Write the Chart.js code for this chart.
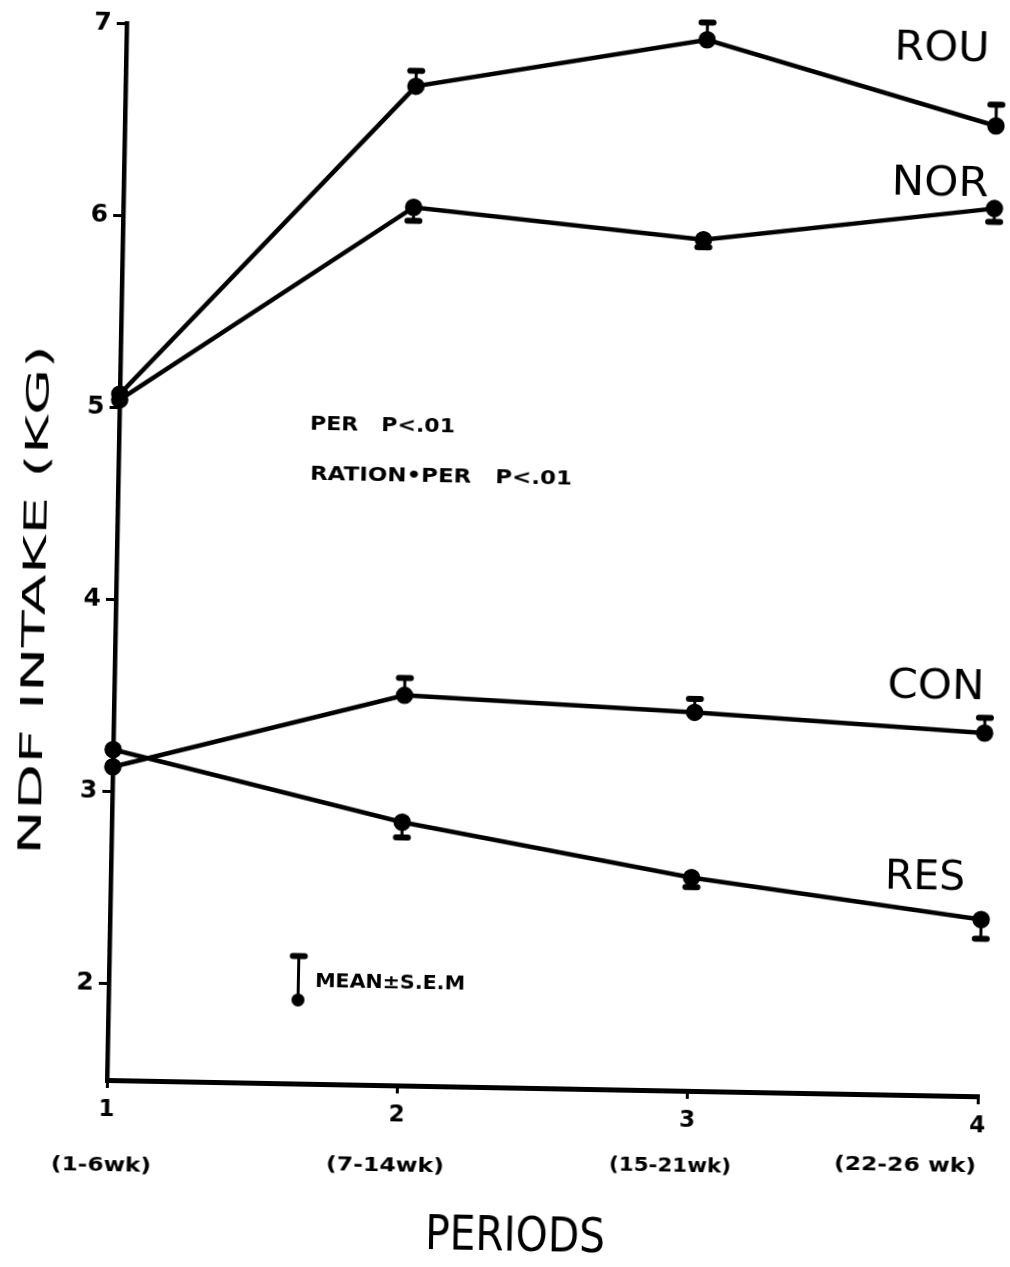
<!DOCTYPE html>
<html>
<head>
<meta charset="utf-8">
<script src="https://cdn.jsdelivr.net/npm/chart.js@4"></script>
<style>
html, body { margin: 0; padding: 0; background: #fff; overflow: hidden; }
/* the scanned figure sits about one degree clockwise */
canvas { display: block; transform: rotate(1.07deg); transform-origin: 107px 1080px; }
</style>
</head>
<body>
<canvas id="ndfChart" width="1010" height="1267"></canvas>
<script>
// periods on the x axis and their week ranges
const periods = ["1", "2", "3", "4"];
const periodNotes = ["(1-6wk)", "(7-14wk)", "(15-21wk)", "(22-26 wk)"];
const yTicks = [2, 3, 4, 5, 6, 7];

// NDF intake (kg) per ration
const rou = [5.07, 6.70, 6.97, 6.55];
const nor = [5.04, 6.07, 5.93, 6.12];
const con = [3.13, 3.53, 3.47, 3.39];
const res = [3.22, 2.87, 2.61, 2.42];

// S.E.M. for each point (bar drawn up or down from the mean)
const rouSem = [0, 0.08, 0.09, 0.11];
const norSem = [0, 0.07, 0.04, 0.07];
const conSem = [0, 0.09, 0.07, 0.08];
const resSem = [0, 0.08, 0.05, 0.10];

const FONT = "'DejaVu Sans', sans-serif";
const TILT = 1.07 * Math.PI / 180;

// page position -> position on the (rotated) canvas
function at(x, y) {
	const dx = x - 107, dy = y - 1080;
	return [
		107 + dx * Math.cos(TILT) + dy * Math.sin(TILT),
		1080 - dx * Math.sin(TILT) + dy * Math.cos(TILT),
	];
}

function line(name, data, sem, up) {
	return {
		label: name,
		data: data,
		sem: sem,
		semUp: up,
		borderColor: "#000",
		backgroundColor: "#000",
		borderWidth: 4.5,
		pointRadius: 6.5,
		pointBackgroundColor: "#000",
		pointBorderColor: "#000",
		tension: 0,
		clip: false,
	};
}

// text squeezed or stretched to a given width
function fitText(ctx, text, x, y, font, width, align, rot) {
	const p = at(x, y);
	ctx.save();
	ctx.translate(p[0], p[1]);
	if (rot) ctx.rotate(rot);
	ctx.font = font;
	const w = ctx.measureText(text).width;
	ctx.scale(width / w, 1);
	ctx.textAlign = align || "center";
	ctx.textBaseline = "middle";
	ctx.fillStyle = "#000";
	ctx.fillText(text, 0, 0);
	ctx.restore();
}

function semBar(ctx, x, y0, y1) {
	ctx.save();
	ctx.strokeStyle = "#000";
	ctx.lineWidth = 3;
	ctx.beginPath();
	ctx.moveTo(x, y0);
	ctx.lineTo(x, y1);
	ctx.stroke();
	ctx.lineWidth = 6;
	ctx.lineCap = "round";
	ctx.beginPath();
	ctx.moveTo(x - 6, y1);
	ctx.lineTo(x + 6, y1);
	ctx.stroke();
	ctx.restore();
}

const errorBars = {
	id: "errorBars",
	afterDatasetsDraw(chart) {
		const ctx = chart.ctx;
		const yScale = chart.scales.y;
		chart.data.datasets.forEach((ds, i) => {
			const meta = chart.getDatasetMeta(i);
			meta.data.forEach((pt, j) => {
				const e = ds.sem[j];
				if (!e) return;
				const yy = yScale.getPixelForValue(ds.data[j] + (ds.semUp ? e : -e));
				semBar(ctx, pt.x, pt.y, yy);
			});
		});
	},
};

const labels = {
	id: "labels",
	afterDraw(chart) {
		const ctx = chart.ctx;
		// axis titles
		fitText(ctx, "NDF INTAKE (KG)", 37, 600, "32px " + FONT, 510, "center", -Math.PI / 2);
		fitText(ctx, "PERIODS", 515, 1238, "48px " + FONT, 180);
		// week ranges under the period numbers
		const noteX = [101, 385, 670, 905];
		const noteW = [100, 118, 122, 142];
		periodNotes.forEach((t, i) => {
			fitText(ctx, t, noteX[i], 1166, "bold 20px " + FONT, noteW[i]);
		});
		// series names
		fitText(ctx, "ROU", 942, 50, "40px " + FONT, 95);
		fitText(ctx, "NOR", 940, 185, "40px " + FONT, 97);
		fitText(ctx, "CON", 936, 688, "40px " + FONT, 97);
		fitText(ctx, "RES", 925, 879, "40px " + FONT, 80);
		// statistics
		fitText(ctx, "PER   P<.01", 310, 425, "bold 19px " + FONT, 145, "left");
		fitText(ctx, "RATION\u2022PER   P<.01", 310, 475, "bold 19px " + FONT, 262, "left");
		// mean +- sem key
		const a = at(298, 1000);
		const b = at(299, 956);
		semBar(ctx, a[0], a[1], b[1]);
		ctx.save();
		ctx.fillStyle = "#000";
		ctx.beginPath();
		ctx.arc(a[0], a[1], 6.5, 0, Math.PI * 2);
		ctx.fill();
		ctx.restore();
		fitText(ctx, "MEAN\u00B1S.E.M", 315, 982, "bold 19px " + FONT, 150, "left");
	},
};

const ctx = document.getElementById("ndfChart").getContext("2d");
new Chart(ctx, {
	type: "line",
	data: {
		labels: periods,
		datasets: [
			line("ROU", rou, rouSem, true),
			line("NOR", nor, norSem, false),
			line("CON", con, conSem, true),
			line("RES", res, resSem, false),
		],
	},
	options: {
		responsive: false,
		animation: false,
		layout: { padding: { top: 23, right: 32, left: 0, bottom: 0 } },
		plugins: {
			legend: { display: false },
			tooltip: { enabled: false },
		},
		scales: {
			x: {
				type: "category",
				offset: false,
				afterFit: (s) => { s.height = 187; },
				grid: {
					drawOnChartArea: false,
					drawTicks: true,
					tickLength: 8,
					color: "#000",
					lineWidth: 3,
				},
				border: { color: "#000", width: 5 },
				ticks: {
					color: "#000",
					padding: 8,
					font: { family: FONT, size: 23, weight: "bold" },
				},
			},
			y: {
				min: 1.5,
				max: 7,
				afterFit: (s) => { s.width = 107; },
				afterBuildTicks: (s) => { s.ticks = yTicks.map((v) => ({ value: v })); },
				grid: {
					drawOnChartArea: false,
					drawTicks: true,
					tickLength: 10,
					color: "#000",
					lineWidth: 3,
				},
				border: { color: "#000", width: 4.5 },
				ticks: {
					color: "#000",
					padding: 5,
					font: { family: FONT, size: 25, weight: "bold" },
				},
			},
		},
	},
	plugins: [errorBars, labels],
});
</script>
</body>
</html>
